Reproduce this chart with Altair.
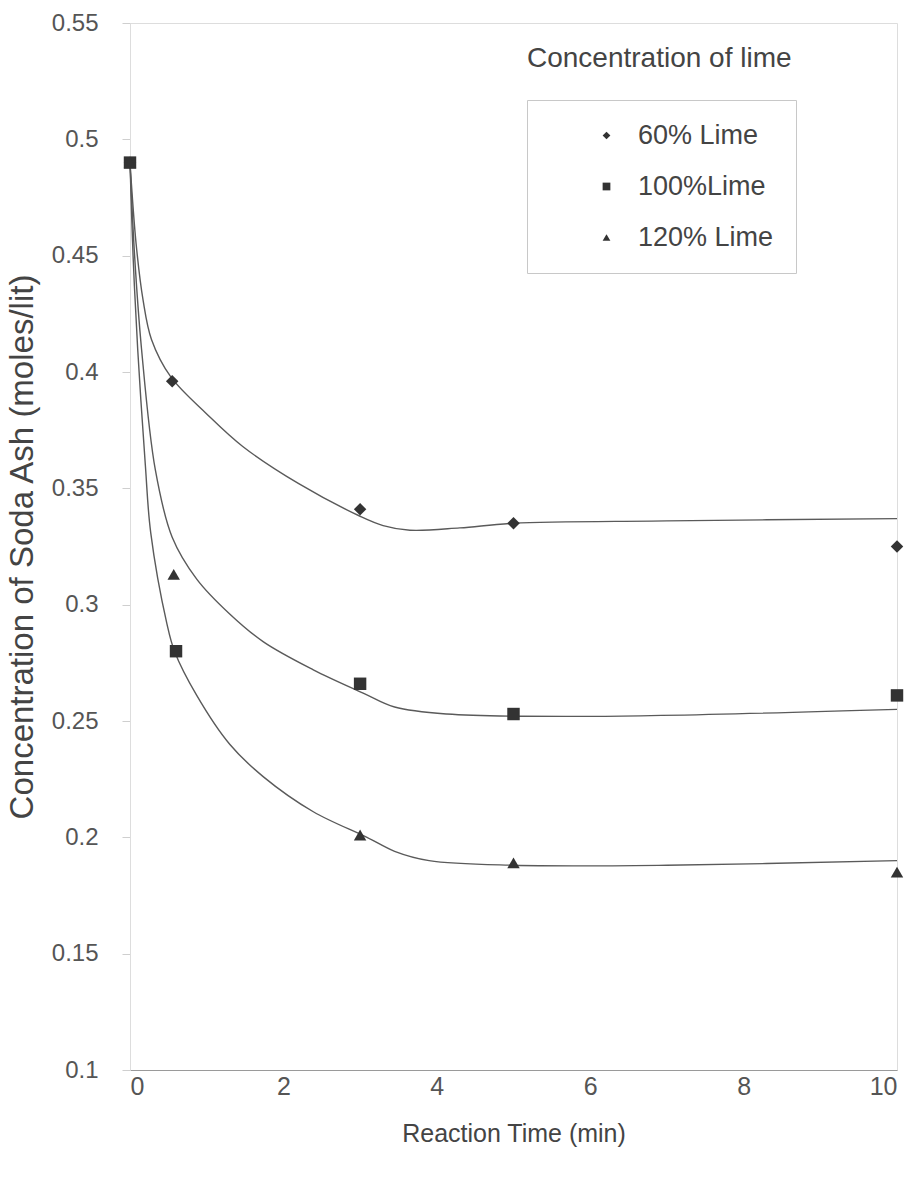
import altair as alt
import pandas as pd

# ---- measured points ----
series_names = ["60% Lime", "100%Lime", "120% Lime"]

t_60 = [0, 0.55, 3, 5, 10]
c_60 = [0.49, 0.396, 0.341, 0.335, 0.325]

t_100 = [0, 0.6, 3, 5, 10]
c_100 = [0.49, 0.280, 0.266, 0.253, 0.261]

t_120 = [0, 0.57, 3, 5, 10]
c_120 = [0.49, 0.313, 0.201, 0.189, 0.185]

# ---- fitted curves ----
curve_top_t = [0, 0.08, 0.17, 0.28, 0.53, 1.0, 1.47, 2.2, 3.0, 3.3, 3.65, 4.3, 5, 7, 10]
curve_top_c = [0.49, 0.455, 0.431, 0.414, 0.398, 0.382, 0.368, 0.352, 0.338, 0.334, 0.332, 0.333, 0.335, 0.336, 0.337]

curve_mid_t = [0, 0.06, 0.15, 0.33, 0.55, 0.87, 1.3, 1.74, 2.39, 3.04, 3.45, 4.13, 6, 10]
curve_mid_c = [0.49, 0.45, 0.41, 0.358, 0.329, 0.311, 0.296, 0.284, 0.272, 0.262, 0.256, 0.253, 0.252, 0.255]

curve_low_t = [0, 0.04, 0.1, 0.2, 0.27, 0.48, 0.58, 0.87, 1.3, 1.74, 2.39, 3.09, 3.45, 3.9, 5, 7, 10]
curve_low_c = [0.49, 0.45, 0.41, 0.36, 0.331, 0.292, 0.280, 0.261, 0.240, 0.226, 0.211, 0.200, 0.194, 0.190, 0.188, 0.188, 0.190]

x_ticks = [0, 2, 4, 6, 8, 10]
y_ticks = [0.1, 0.15, 0.2, 0.25, 0.3, 0.35, 0.4, 0.45, 0.5, 0.55]

pts = pd.DataFrame(
    [{"t": t, "c": c, "s": series_names[0]} for t, c in zip(t_60, c_60)]
    + [{"t": t, "c": c, "s": series_names[1]} for t, c in zip(t_100, c_100)]
    + [{"t": t, "c": c, "s": series_names[2]} for t, c in zip(t_120, c_120)]
)
curves = pd.DataFrame(
    [{"t": t, "c": c, "k": "top"} for t, c in zip(curve_top_t, curve_top_c)]
    + [{"t": t, "c": c, "k": "mid"} for t, c in zip(curve_mid_t, curve_mid_c)]
    + [{"t": t, "c": c, "k": "low"} for t, c in zip(curve_low_t, curve_low_c)]
)

FONT = "Liberation Sans"

x_enc = alt.X(
    "t:Q",
    scale=alt.Scale(domain=[0, 10], nice=False),
    axis=alt.Axis(
        title="Reaction Time (min)",
        values=x_ticks,
        format="d",
        grid=False,
        ticks=False,
        domainColor="#9a9a9a",
        labelFontSize=25,
        labelColor="#555555",
        labelPadding=4,
        labelFont=FONT,
        titleFont=FONT,
        titleFontSize=25,
        titleFontWeight="normal",
        titleColor="#444444",
        titlePadding=22,
    ),
)
y_enc = alt.Y(
    "c:Q",
    scale=alt.Scale(domain=[0.1, 0.55], nice=False, zero=False),
    axis=alt.Axis(
        title="Concentration of Soda Ash (moles/lit)",
        values=y_ticks,
        format="~g",
        grid=False,
        ticks=True,
        tickSize=8,
        tickColor="#cfcfcf",
        domainColor="#dddddd",
        labelFontSize=24,
        labelColor="#555555",
        labelPadding=24,
        labelFont=FONT,
        titleFont=FONT,
        titleFontSize=33,
        titleFontWeight="normal",
        titleColor="#444444",
        titlePadding=12,
    ),
)

lines = alt.Chart(curves).mark_line(
    interpolate="catmull-rom", color="#5a5a5a", strokeWidth=1.4
).encode(x=x_enc, y=y_enc, detail="k:N")

points = alt.Chart(pts).mark_point(
    filled=True, size=155, color="#333333", opacity=1
).encode(
    x="t:Q",
    y="c:Q",
    shape=alt.Shape(
        "s:N",
        scale=alt.Scale(domain=series_names, range=["diamond", "square", "triangle-up"]),
        legend=alt.Legend(
            title=None,
            orient="none",
            legendX=397,
            legendY=77,
            padding=22,
            symbolOffset=44,
            labelOffset=18,
            rowPadding=23,
            symbolSize=60,
            symbolFillColor="#333333",
            symbolStrokeColor="#333333",
            labelFontSize=27,
            labelFont=FONT,
            labelColor="#444444",
            strokeColor="#c8c8c8",
            labelLimit=400,
        ),
    ),
)

chart = (
    alt.layer(lines, points)
    .properties(
        width=767,
        height=1047,
        autosize=alt.AutoSizeParams(type="none"),
        padding={"left": 130, "top": 23, "right": 26, "bottom": 109},
        title=alt.TitleParams(
            "Concentration of lime",
            anchor="start",
            frame="group",
            orient="top",
            offset=0,
            dx=397,
            dy=62,
            fontSize=28,
            font=FONT,
            fontWeight="normal",
            color="#444444",
        ),
    )
    .configure_view(stroke=None)
    .configure(background="white")
)

chart.save("out.html", embed_options={"renderer": "svg", "actions": False})
